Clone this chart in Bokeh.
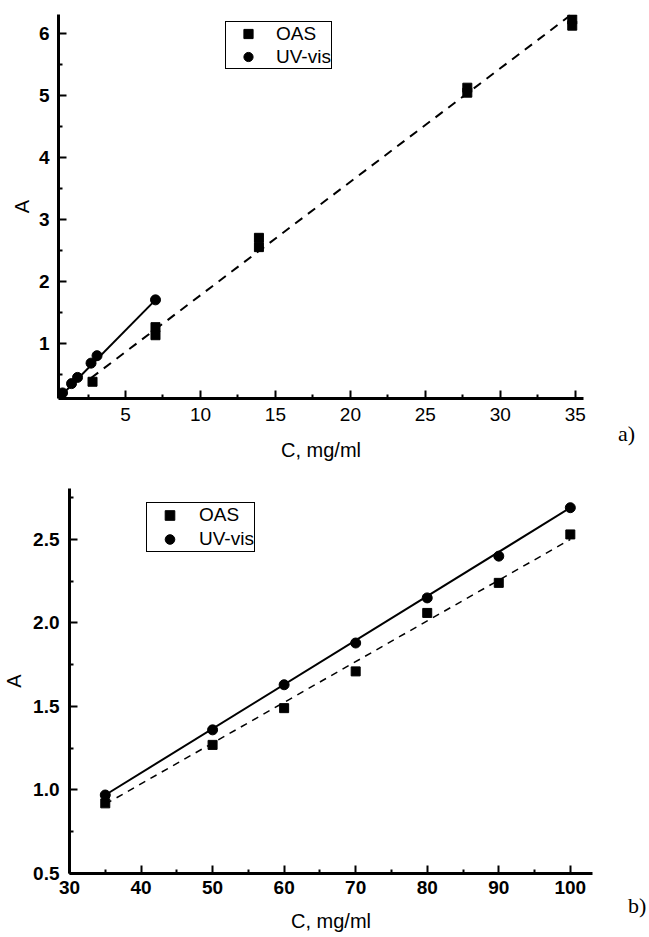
from bokeh.plotting import figure
from bokeh.layouts import column, row
from bokeh.models import Range1d, Legend, LegendItem, FixedTicker, PrintfTickFormatter, Div
from bokeh.embed import file_html
from bokeh.resources import INLINE

# ---- panel a) data ----
a_oas_x = [2.8, 7.0, 7.0, 13.9, 13.9, 27.8, 27.8, 34.8, 34.8]
a_oas_y = [0.38, 1.13, 1.26, 2.55, 2.70, 5.04, 5.12, 6.12, 6.22]
a_uv_x = [0.6, 0.8, 1.4, 1.8, 2.7, 3.1, 7.0]
a_uv_y = [0.13, 0.20, 0.35, 0.45, 0.68, 0.80, 1.70]
a_oas_fit_x = [2.7, 34.8]
a_oas_fit_y = [0.44, 6.31]
a_uv_fit_x = [0.6, 7.0]
a_uv_fit_y = [0.13, 1.70]
a_xticks = [5, 10, 15, 20, 25, 30, 35]
a_yticks = [1, 2, 3, 4, 5, 6]

# ---- panel b) data ----
b_x = [35, 50, 60, 70, 80, 90, 100]
b_oas_y = [0.92, 1.27, 1.49, 1.71, 2.06, 2.24, 2.53]
b_uv_y = [0.97, 1.36, 1.63, 1.88, 2.15, 2.40, 2.69]
b_oas_fit_x = [35, 100]
b_oas_fit_y = [0.915, 2.50]
b_uv_fit_x = [35, 100]
b_uv_fit_y = [0.97, 2.69]
b_xticks = [30, 40, 50, 60, 70, 80, 90, 100]
b_yticks = [0.5, 1.0, 1.5, 2.0, 2.5]

SANS = "Liberation Sans"
SERIF = "Liberation Serif"


def style_axes(p, xbold, ybold):
    for ax in (p.xaxis[0], p.yaxis[0]):
        ax.axis_line_width = 3
        ax.axis_line_color = "black"
        ax.major_tick_line_width = 2
        ax.minor_tick_line_width = 2
        ax.major_tick_line_color = "black"
        ax.minor_tick_line_color = "black"
        ax.major_tick_in = 8
        ax.major_tick_out = 0
        ax.minor_tick_in = 4
        ax.minor_tick_out = 0
        ax.major_label_text_font = SANS
        ax.major_label_text_font_size = "19px"
        ax.major_label_text_color = "black"
        ax.axis_label_text_font = SANS
        ax.axis_label_text_font_size = "20px"
        ax.axis_label_text_font_style = "normal"
        ax.axis_label_text_color = "black"
    p.xaxis[0].major_label_text_font_style = "bold" if xbold else "normal"
    p.yaxis[0].major_label_text_font_style = "bold" if ybold else "normal"
    p.xaxis[0].axis_label = "C, mg/ml"
    p.yaxis[0].axis_label = "A"
    p.xgrid.visible = False
    p.ygrid.visible = False
    p.outline_line_color = None


# ---------------- figure a ----------------
p1 = figure(width=605, height=470, output_backend="svg", toolbar_location=None,
            x_range=Range1d(0.53, 35.55), y_range=Range1d(0.11, 6.3),
            min_border_left=58, min_border_right=22, min_border_top=14, min_border_bottom=72)
style_axes(p1, xbold=False, ybold=True)
p1.xaxis[0].ticker = FixedTicker(ticks=a_xticks, minor_ticks=[2.5 + 5 * i for i in range(7)])
p1.yaxis[0].ticker = FixedTicker(ticks=a_yticks, minor_ticks=[0.5 + i for i in range(6)])
p1.xaxis[0].major_label_standoff = 9
p1.yaxis[0].major_label_standoff = 9
p1.xaxis[0].axis_label_standoff = 15
p1.yaxis[0].axis_label_standoff = 3

p1.line(a_oas_fit_x, a_oas_fit_y, line_color="black", line_width=2, line_dash="9 7")
p1.line(a_uv_fit_x, a_uv_fit_y, line_color="black", line_width=2)
r1s = p1.scatter(a_oas_x, a_oas_y, marker="square", size=9, color="black")
r1c = p1.scatter(a_uv_x, a_uv_y, marker="circle", size=10, color="black")

leg1 = Legend(items=[LegendItem(label="OAS", renderers=[r1s]),
                     LegendItem(label="UV-vis", renderers=[r1c])],
              location=(167, 329), margin=0, padding=0, spacing=0,
              label_height=23, glyph_height=23, glyph_width=44, label_standoff=6,
              label_text_font=SANS, label_text_font_size="19px", label_text_color="black",
              border_line_color="black", border_line_width=1, border_line_alpha=1,
              background_fill_color="white", background_fill_alpha=1)
p1.add_layout(leg1, "center")

div_a = Div(text='<div style="padding-top:421px; padding-left:13px; '
                 'font-family:\'Liberation Serif\'; font-size:22px; line-height:26px; color:black;">a)</div>',
            width=44, height=470, margin=0)

# ---------------- figure b ----------------
p2 = figure(width=605, height=467, output_backend="svg", toolbar_location=None,
            x_range=Range1d(30, 103.1), y_range=Range1d(0.5, 2.805),
            min_border_left=68, min_border_right=13, min_border_top=18, min_border_bottom=64)
style_axes(p2, xbold=True, ybold=True)
p2.xaxis[0].ticker = FixedTicker(ticks=b_xticks, minor_ticks=[35 + 10 * i for i in range(7)])
p2.yaxis[0].ticker = FixedTicker(ticks=b_yticks, minor_ticks=[0.75, 1.25, 1.75, 2.25, 2.75])
p2.yaxis[0].formatter = PrintfTickFormatter(format="%.1f")
p2.xaxis[0].major_label_standoff = 7
p2.yaxis[0].major_label_standoff = 10
p2.xaxis[0].axis_label_standoff = 13
p2.yaxis[0].axis_label_standoff = 5

p2.line(b_oas_fit_x, b_oas_fit_y, line_color="black", line_width=1.5, line_dash="7 6")
p2.line(b_uv_fit_x, b_uv_fit_y, line_color="black", line_width=2)
r2s = p2.scatter(b_x, b_oas_y, marker="square", size=9, color="black")
r2c = p2.scatter(b_x, b_uv_y, marker="circle", size=10, color="black")

leg2 = Legend(items=[LegendItem(label="OAS", renderers=[r2s]),
                     LegendItem(label="UV-vis", renderers=[r2c])],
              location=(77, 321), margin=0, padding=0, spacing=0,
              label_height=24, glyph_height=24, glyph_width=45, label_standoff=7,
              label_text_font=SANS, label_text_font_size="19px", label_text_color="black",
              border_line_color="black", border_line_width=1, border_line_alpha=1,
              background_fill_color="white", background_fill_alpha=1)
p2.add_layout(leg2, "center")

div_b = Div(text='<div style="padding-top:423px; padding-left:23px; '
                 'font-family:\'Liberation Serif\'; font-size:22px; line-height:26px; color:black;">b)</div>',
            width=44, height=467, margin=0)

layout = column(row(p1, div_a, spacing=0), row(p2, div_b, spacing=0), spacing=0)
open("out.html", "w").write(file_html(layout, INLINE))
